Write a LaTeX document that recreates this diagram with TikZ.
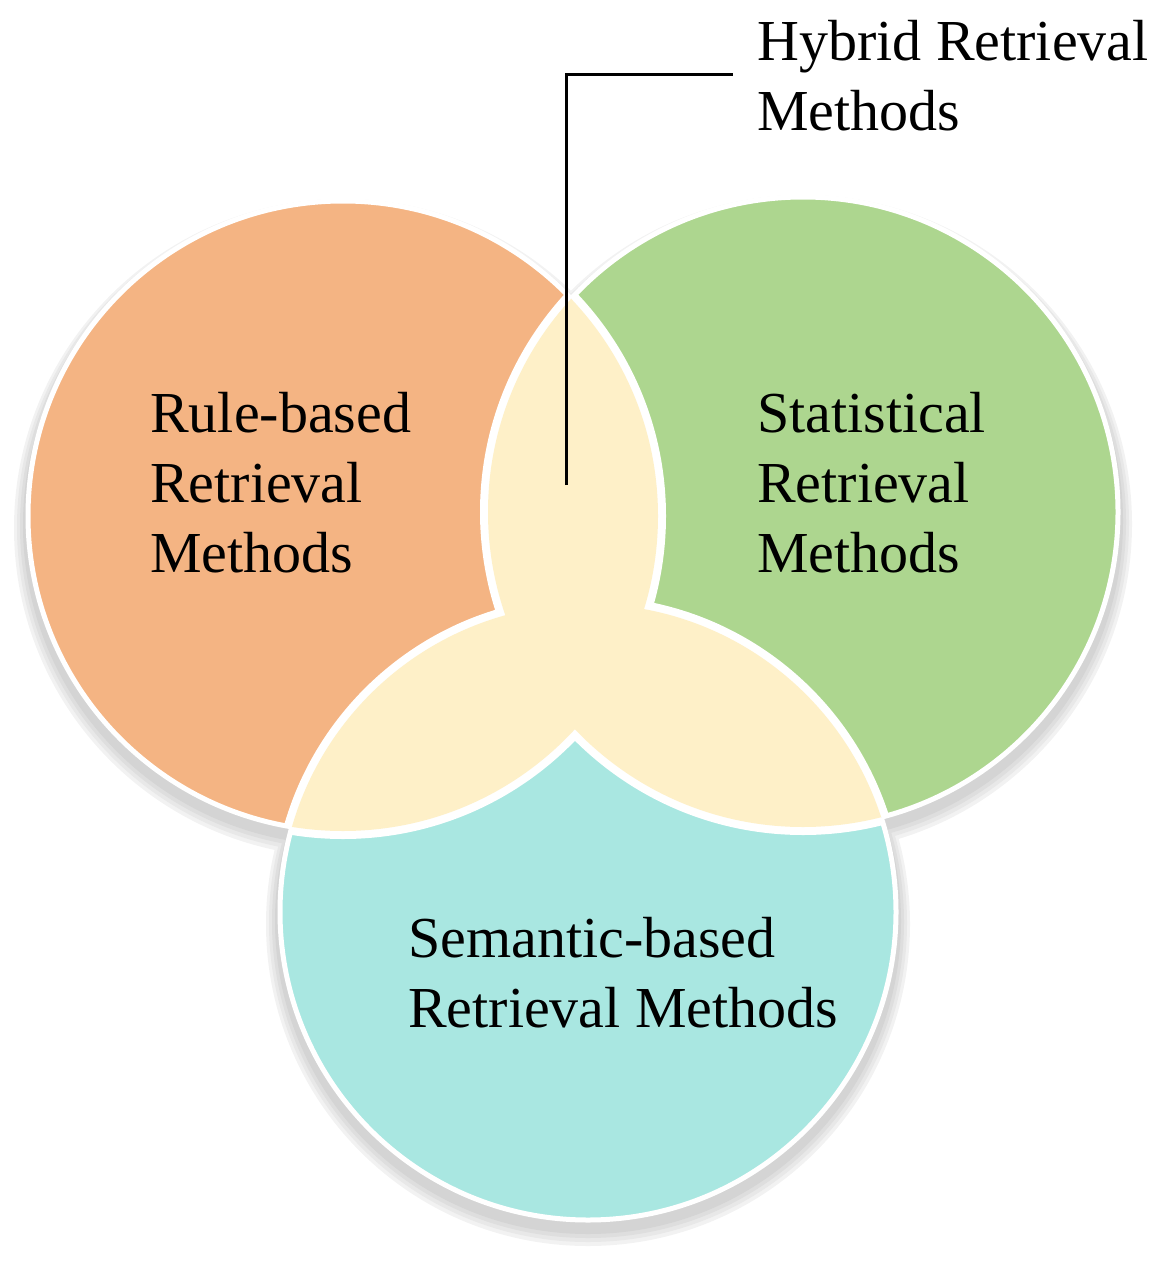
\documentclass[tikz,border=0pt]{standalone}
\usepackage{fontspec}
\setmainfont{Liberation Serif}
\definecolor{orng}{HTML}{F4B483}
\definecolor{grn}{HTML}{ADD68F}
\definecolor{cyn}{HTML}{A9E7E1}
\definecolor{ylw}{HTML}{FEF0C8}
\begin{document}
\begin{tikzpicture}[x=1pt,y=-1pt,
  lbl/.style={font=\fontsize{58}{70}\selectfont, align=left, inner sep=0pt, anchor=north west, text=black},
  sepline/.style={draw=white, line width=16pt},
  rimline/.style={draw=white, line width=5pt}]
\useasboundingbox (0,0) rectangle (1165,1265);
\coordinate (oc) at (343,516);
\coordinate (gc) at (803,512);
\coordinate (cc) at (588,912);
\def\pO{(oc) circle[radius=315pt]}
\def\pG{(gc) circle[radius=315pt]}
\def\pC{(cc) circle[radius=308pt]}
% outer soft shadow
\foreach \e/\s/\c in {14/12/5, 11/11/9, 8/10/13, 5/9/17}{
  \fill[black!\c] ([yshift=-\s pt]oc) circle[radius={(315+\e)*1pt}]
                  ([yshift=-\s pt]gc) circle[radius={(315+\e)*1pt}]
                  ([yshift=-\s pt]cc) circle[radius={(308+\e)*1pt}];
}
% coloured circles
\fill[orng] \pO;
\fill[grn] \pG;
\fill[cyn] \pC;
\path[rimline] \pO \pG \pC;
% shadow of the hybrid region
\foreach \dx/\dy/\c in {18/14/7, 16/12/11, 14/10/15}{
  \begin{scope}[xshift=\dx pt, yshift=-\dy pt]
    \begin{scope}\clip \pO; \fill[black!\c] \pG \pC; \end{scope}
    \begin{scope}\clip \pG; \fill[black!\c] \pC; \end{scope}
  \end{scope}
}
% white separations
\begin{scope}\clip \pG; \path[sepline] \pO \pC; \end{scope}
\begin{scope}\clip \pO; \path[sepline] \pG \pC; \end{scope}
\begin{scope}\clip \pC; \path[sepline] \pO \pG; \end{scope}
% hybrid region
\begin{scope}\clip \pO; \fill[ylw] \pG \pC; \end{scope}
\begin{scope}\clip \pG; \fill[ylw] \pC; \end{scope}
% labels
\node[lbl] (rule) at (150,392) {Rule-based\\Retrieval\\Methods};
\node[lbl] (stat) at (757,392) {Statistical\\Retrieval\\Methods};
\node[lbl] (sem) at (408,917) {Semantic-based\\Retrieval Methods};
\node[lbl] (hyb) at (757,20) {Hybrid Retrieval\\Methods};
% leader
\coordinate (lp) at (566,485);
\coordinate (lc) at (566,75);
\coordinate (le) at (733,75);
\draw[line width=3pt] (lp) -- (lc) -- (le);
\end{tikzpicture}
\end{document}
